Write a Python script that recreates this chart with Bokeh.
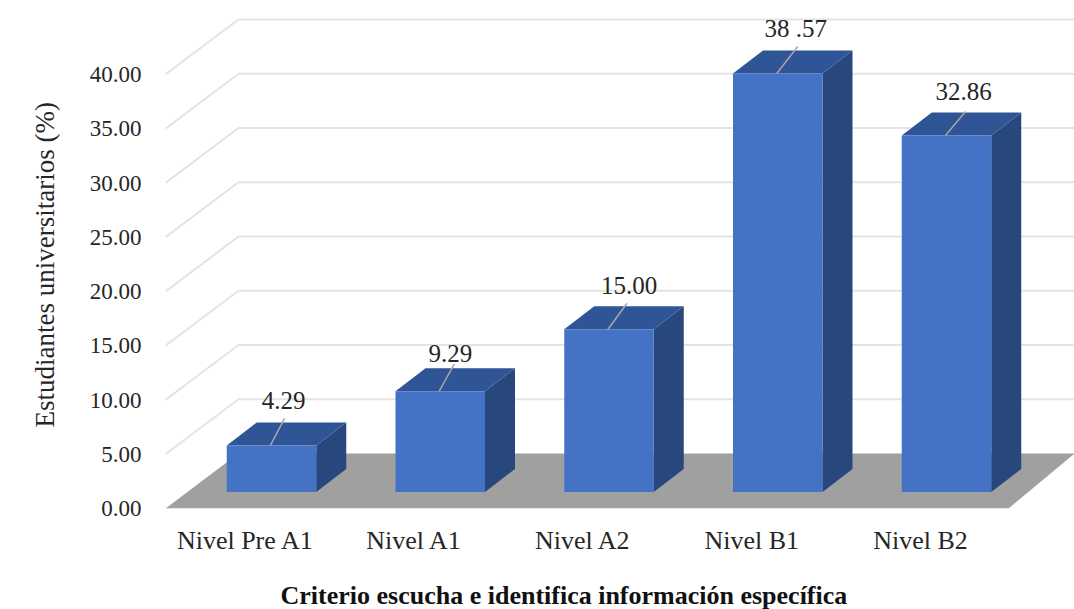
from bokeh.plotting import figure
from bokeh.models import Range1d, FixedTicker, Title
from bokeh.core.properties import value as fv
from bokeh.embed import file_html
from bokeh.resources import INLINE

categories = ["Nivel Pre A1", "Nivel A1", "Nivel A2", "Nivel B1", "Nivel B2"]
values = [4.29, 9.29, 15.00, 38.57, 32.86]
labels = ["4.29", "9.29", "15.00", "38 .57", "32.86"]
y_ticks = [0, 5, 10, 15, 20, 25, 30, 35, 40]
y_tick_labels = ["0.00", "5.00", "10.00", "15.00", "20.00", "25.00", "30.00", "35.00", "40.00"]
x_title = "Criterio escucha e identifica información específica"
y_title = "Estudiantes universitarios (%)"

FL = 165                   # frame left in page pixels
FH = 508                   # frame height: floor's front edge at page y=508
fw = 1074 - FL
PX = 168.75                # px per category
PY = 10.85                 # px per percent
X0 = 271 - FL              # px of category 0 inside frame

left = -X0 / PX
right = (fw - X0) / PX

p = figure(frame_width=fw, frame_height=FH, output_backend="svg", toolbar_location=None,
           x_range=Range1d(left, right), y_range=Range1d(0, FH / PY),
           min_border_left=FL, min_border_bottom=609 - FH, min_border_top=0, min_border_right=0)
p.outline_line_color = None
p.grid.visible = False

def dx(px): return px / PX
def dy(px): return px / PY

wall_dx, wall_dy = dx(73), dy(55)
grid_color = "#E4E4E4"

for t in y_ticks[1:]:
    p.line([left, left + wall_dx, right], [t, t + wall_dy, t + wall_dy],
           line_color=grid_color, line_width=2)

p.patch([left, left + wall_dx, right, left + dx(843)],
        [0, wall_dy, wall_dy, 0], fill_color="#A0A0A0", line_color=None)

bw = dx(89.5)
base = dy(16.5)
ddx, ddy = dx(30), dy(23)
for i, v in enumerate(values):
    l, r = i - bw / 2, i + bw / 2
    t = base + v
    p.patch([r, r + ddx, r + ddx, r], [base, base + ddy, t + ddy, t],
            fill_color="#28477D", line_color=None)
    p.patch([l, r, r + ddx, l + ddx], [t, t, t + ddy, t + ddy],
            fill_color="#2F5597", line_color=None)
    p.quad(left=l, right=r, bottom=base, top=t, fill_color="#4472C4", line_color=None)

lead_end = [(14, 27), (15, 27), (19, 26), (21, 27), (20, 24)]
lab_off = [(12, 45), (10, 38), (20, 44), (18, 45), (17, 44)]
for i, v in enumerate(values):
    t = base + v
    x0 = i - dx(1)
    p.line([x0, x0 + dx(lead_end[i][0])], [t, t + dy(lead_end[i][1])],
           line_color="#A6A6A6", line_width=1.5)
    p.text([i + dx(lab_off[i][0])], [t + dy(lab_off[i][1])], text=[labels[i]],
           text_font=fv("Liberation Serif"), text_font_size="25px", text_color="#262626",
           text_align="center", text_baseline="middle")

ya = p.yaxis[0]
ya.ticker = FixedTicker(ticks=y_ticks)
ya.major_label_overrides = {t: s for t, s in zip(y_ticks, y_tick_labels)}
ya.axis_line_color = None
ya.major_tick_line_color = None
ya.minor_tick_line_color = None
ya.major_label_standoff = 18
ya.major_label_text_font = "Liberation Serif"
ya.major_label_text_font_size = "23px"
ya.major_label_text_color = "#262626"

LABEL_SHIFT = dx(26)       # category labels sit left of the bars, on the floor's front edge
xa = p.xaxis[0]
x_pos = [i - LABEL_SHIFT for i in range(len(categories))]
xa.ticker = FixedTicker(ticks=x_pos)
xa.major_label_overrides = {x: c for x, c in zip(x_pos, categories)}
xa.axis_line_color = None
xa.major_tick_line_color = None
xa.minor_tick_line_color = None
xa.major_label_standoff = 11
xa.major_label_text_font = "Liberation Serif"
xa.major_label_text_font_size = "26px"
xa.major_label_text_color = "#262626"

p.add_layout(Title(text=x_title, align="left", offset=280 - FL, standoff=42,
                   text_font="Liberation Serif", text_font_size="26px", text_font_style="bold",
                   text_color="#111111"), "below")
p.add_layout(Title(text=y_title, align="left", offset=FH - 427, standoff=54,
                   text_font="Liberation Serif", text_font_size="27px", text_font_style="normal",
                   text_color="#262626"), "left")

open("out.html", "w").write(file_html(p, INLINE))
